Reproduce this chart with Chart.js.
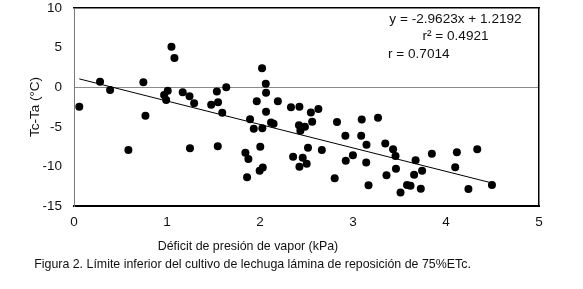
<!DOCTYPE html>
<html>
<head>
<meta charset="utf-8">
<script src="https://cdn.jsdelivr.net/npm/chart.js@4"></script>
<style>
  html, body { margin: 0; padding: 0; background: #fff; }
  #wrap { position: relative; width: 583px; height: 289px; font-family: "Liberation Sans", Arial, sans-serif; color: #111; }
  #c { position: absolute; left: 0; top: 0; }
  .t { position: absolute; font-size: 12.4px; line-height: 15px; white-space: nowrap; }
  .eq { font-size: 13.6px; }
  .ctr { transform: translateX(-50%); }
</style>
</head>
<body>
<div id="wrap">
  <canvas id="c" width="583" height="289"></canvas>
  <div class="t eq ctr" style="left:455.5px; top:11px;">y = -2.9623x + 1.2192</div>
  <div class="t eq ctr" style="left:455.5px; top:28px;">r² = 0.4921</div>
  <div class="t eq" style="left:388px; top:46px;">r = 0.7014</div>
  <div class="t ctr" style="left:248px; top:239px;">Déficit de presión de vapor (kPa)</div>
  <div class="t ctr" style="left:252.5px; top:257px;">Figura 2. Límite inferior del cultivo de lechuga lámina de reposición de 75%ETc.</div>
</div>
<script>
// Vapour pressure deficit (kPa)
const vpd = [
  0.057, 0.280, 0.388, 0.585, 0.746, 0.768, 0.969, 1.008, 0.991, 1.048,
  1.080, 1.169, 1.242, 1.247, 1.292, 1.475, 1.536, 1.549, 1.546, 1.594,
  1.637, 1.843, 1.875, 1.861, 1.893, 1.933, 1.965, 2.003, 1.996, 2.030,
  2.022, 2.025, 2.062, 2.065, 2.065, 2.119, 2.146, 2.192, 2.333, 2.356,
  2.419, 2.434, 2.424, 2.424, 2.459, 2.483, 2.502, 2.516, 2.547, 2.561,
  2.628, 2.665, 2.803, 2.828, 2.918, 2.922, 2.999, 3.088, 3.094, 3.145,
  3.142, 3.167, 3.269, 3.347, 3.360, 3.431, 3.457, 3.462, 3.511, 3.581,
  3.618, 3.657, 3.673, 3.743, 3.729, 3.848, 4.117, 4.099, 4.241, 4.336,
  4.494
];
// Canopy minus air temperature (°C)
const tcta = [
  -2.46, 0.69, -0.35, -7.93, 0.63, -3.60, -0.98, -0.44, -1.62, 5.11,
  3.69, -0.64, -1.15, -7.71, -2.02, -2.22, -0.54, -1.89, -7.46, -3.22,
  0.00, -8.27, -9.07, -11.38, -4.05, -5.24, -1.78, -7.53, -10.54, -10.14,
  2.39, -5.19, 0.43, -0.69, -3.11, -4.46, -4.61, -1.78, -2.54, -8.79,
  -4.81, -5.49, -2.47, -10.04, -8.90, -4.99, -9.66, -7.64, -3.21, -4.36,
  -2.75, -7.93, -11.50, -4.39, -6.12, -9.28, -8.60, -6.12, -4.08, -7.26,
  -9.51, -12.39, -3.85, -7.11, -11.11, -7.83, -8.69, -10.30, -13.30, -12.35,
  -12.45, -11.06, -9.22, -10.56, -12.83, -8.40, -8.22, -10.10, -12.85, -7.83,
  -12.35
];
// Regression reported on the figure
const slope = [-2.9623];
const intercept = [1.2192];
const xTicks = [0, 1, 2, 3, 4, 5];
const yTicks = [-15, -10, -5, 0, 5, 10];

const pts = vpd.map((x, i) => ({ x: x, y: tcta[i] }));
const xMin = Math.min(...vpd), xMax = Math.max(...vpd);
const trend = [xMin, xMax].map(x => ({ x: x, y: slope[0] * x + intercept[0] }));

const font = { family: '"Liberation Sans", Arial, sans-serif', size: 13.5 };
const noPad = s => { s.paddingTop = 0; s.paddingBottom = 0; s.paddingLeft = 0; s.paddingRight = 0; };

new Chart(document.getElementById('c'), {
  type: 'scatter',
  data: {
    datasets: [
      {
        data: pts,
        backgroundColor: '#000',
        borderColor: '#000',
        borderWidth: 0,
        pointRadius: 4,
        pointHoverRadius: 4
      },
      {
        type: 'line',
        data: trend,
        borderColor: '#000',
        borderWidth: 1,
        pointRadius: 0,
        fill: false
      }
    ]
  },
  options: {
    responsive: false,
    animation: false,
    events: [],
    layout: { autoPadding: false, padding: { left: 0, right: 44, top: 8, bottom: 53 } },
    plugins: { legend: { display: false }, tooltip: { enabled: false } },
    scales: {
      x: {
        type: 'linear',
        min: 0, max: 5,
        afterBuildTicks: s => { s.ticks = xTicks.map(v => ({ value: v })); },
        afterFit: s => { s.height = 30; noPad(s); },
        grid: { display: false, drawTicks: false },
        border: { display: true, color: '#000', width: 2 },
        ticks: { color: '#111', font: font, padding: 8 }
      },
      xTop: {
        type: 'linear',
        position: 'top',
        min: 0, max: 5,
        afterFit: s => { s.height = 0; noPad(s); },
        grid: { display: false, drawTicks: false },
        border: { display: true, color: '#000', width: 1.5 },
        ticks: { display: false }
      },
      y: {
        type: 'linear',
        min: -15, max: 10,
        afterBuildTicks: s => { s.ticks = yTicks.map(v => ({ value: v })); },
        afterFit: s => { s.width = 74; noPad(s); },
        grid: {
          drawTicks: false,
          color: c => (c.tick && c.tick.value === 0) ? '#8a8a8a' : 'rgba(0,0,0,0)',
          lineWidth: 1
        },
        border: { display: true, color: '#777', width: 1 },
        ticks: { color: '#111', font: font, padding: 12 },
        title: { display: true, text: 'Tc-Ta (°C)', color: '#111', font: font, padding: { top: 27, bottom: 0 } }
      },
      yRight: {
        type: 'linear',
        position: 'right',
        min: -15, max: 10,
        afterFit: s => { s.width = 0; noPad(s); },
        grid: { display: false, drawTicks: false },
        border: { display: true, color: '#000', width: 1.5 },
        ticks: { display: false }
      }
    }
  }
});
</script>
</body>
</html>
